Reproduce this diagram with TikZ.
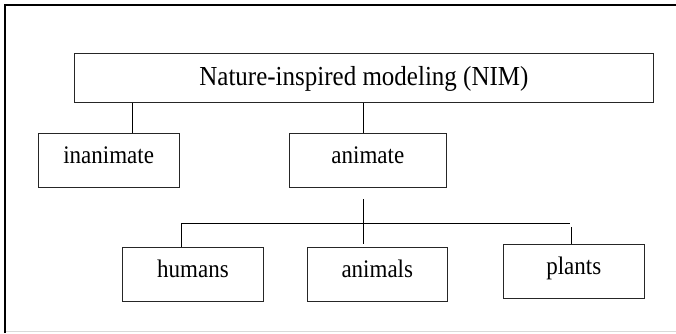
\documentclass[tikz,border=0pt]{standalone}
\usepackage{fontspec}
\usepackage{graphicx}
\setmainfont{Liberation Serif}
% slightly tall lettering for the box labels
\newcommand{\tallText}[1]{\scalebox{1}[1.1]{#1}}
\begin{document}
\begin{tikzpicture}[x=1pt,y=-1pt,
  box/.style={draw=black!85, line width=0.9pt, rectangle, inner sep=0pt,
    font=\fontsize{23}{23}\selectfont, text height=12pt, text depth=6pt},
  topbox/.style={box, font=\fontsize{25}{25}\selectfont, text height=18pt, text depth=3pt},
  link/.style={draw=black, line width=0.8pt},
  frameline/.style={draw=black, line width=2.7pt, line join=miter}]
\useasboundingbox (0,0) rectangle (676,333);

% outer frame
\draw[frameline] (5,333) -- (5,5) -- (676,5);
\draw[black!15, line width=1.3pt] (6,331.7) -- (676,331.7);

% boxes
\node[topbox, minimum width=579pt, minimum height=49pt] (nim) at (363.9,77.8) {\tallText{Nature-inspired modeling (NIM)}};
\node[box, minimum width=140.7pt, minimum height=54pt] (inanimate) at (108.65,160.3) {\tallText{inanimate}};
\node[box, minimum width=157.7pt, minimum height=54.4pt] (animate) at (367.85,160.5) {\tallText{animate}};
\node[box, minimum width=140.6pt, minimum height=54pt] (humans) at (193,274.7) {\tallText{humans}};
\node[box, minimum width=140pt, minimum height=53.7pt] (animals) at (377.3,274.15) {\tallText{animals}};
\node[box, minimum width=140.4pt, minimum height=54pt] (plants) at (573.8,271.3) {\tallText{plants}};

% connector anchors
\coordinate (xa) at (132.7,0);
\coordinate (xb) at (363.4,0);
\coordinate (j1) at (363.4,199.3);
\coordinate (j2) at (363.4,244);
\coordinate (hl) at (181,223.5);
\coordinate (hr) at (570,223.5);
\coordinate (pt) at (571.2,227.3);

% connectors
\draw[link] (nim.south -| xa) -- (inanimate.north -| xa);
\draw[link] (nim.south -| xb) -- (animate.north -| xb);
\draw[link] (j1) -- (j2);
\draw[link] (hl) -- (hr);
\draw[link] (hl) -- (humans.north -| hl);
\draw[link] (pt) -- (plants.north -| pt);
\end{tikzpicture}
\end{document}
